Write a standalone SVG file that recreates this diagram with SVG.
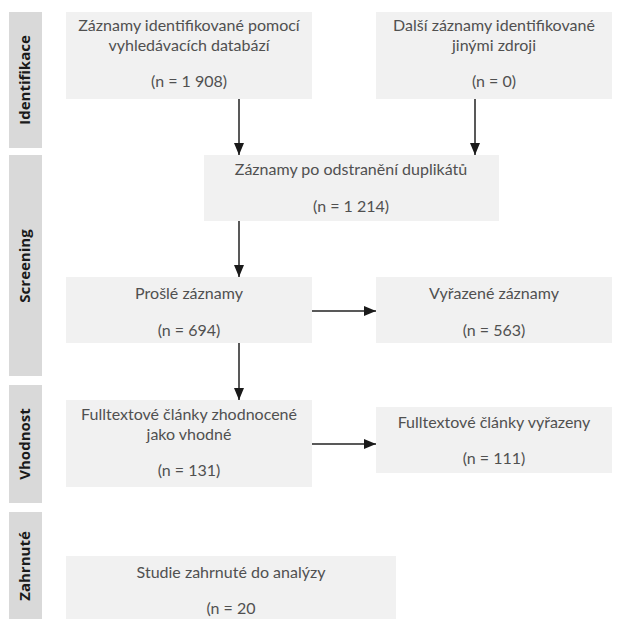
<svg xmlns="http://www.w3.org/2000/svg" width="619" height="619" viewBox="0 0 619 619">
<style>
.bar{fill:#d9d9d9}
.box{fill:#f1f1f1}
.t{font-family:Lato,"Open Sans",sans-serif;font-size:16px;fill:#505050;text-anchor:middle}
.s{font-family:"Open Sans","Noto Sans",sans-serif;font-size:15px;font-weight:bold;fill:#1a1a1a;text-anchor:middle}
.c{stroke:#222;stroke-width:1.5;fill:none}
</style>
<defs>
<marker id="ah" viewBox="0 0 12 10" refX="12" refY="5" markerWidth="12" markerHeight="10" markerUnits="userSpaceOnUse" orient="auto">
<path d="M0,0 L12,5 L0,10 z" fill="#1a1a1a"/>
</marker>
</defs>
<g id="bar-identifikace"><rect class="bar" x="9" y="12" width="33" height="136"/><text class="s" transform="translate(30,80) rotate(-90)">Identifikace</text></g>
<g id="bar-screening"><rect class="bar" x="9" y="155" width="33" height="221"/><text class="s" transform="translate(30,266) rotate(-90)">Screening</text></g>
<g id="bar-vhodnost"><rect class="bar" x="9" y="385" width="33" height="118"/><text class="s" transform="translate(30,444) rotate(-90)">Vhodnost</text></g>
<g id="bar-zahrnute"><rect class="bar" x="9" y="512" width="33" height="108"/><text class="s" transform="translate(30,566) rotate(-90)">Zahrnuté</text></g>

<g id="n1"><rect class="box" x="66" y="12" width="246" height="87"/>
<text class="t" x="189" y="31">Záznamy identifikované pomocí</text>
<text class="t" x="189" y="50.5">vyhledávacích databází</text>
<text class="t" x="189" y="87">(n = 1 908)</text></g>
<g id="n2"><rect class="box" x="376" y="12" width="236" height="87"/>
<text class="t" x="494" y="31">Další záznamy identifikované</text>
<text class="t" x="494" y="50.5">jinými zdroji</text>
<text class="t" x="494" y="87">(n = 0)</text></g>
<g id="n3"><rect class="box" x="204" y="155" width="295" height="66"/>
<text class="t" x="351" y="175">Záznamy po odstranění duplikátů</text>
<text class="t" x="351" y="212">(n = 1 214)</text></g>
<g id="n4"><rect class="box" x="66" y="277" width="246" height="66"/>
<text class="t" x="189" y="299">Prošlé záznamy</text>
<text class="t" x="189" y="336">(n = 694)</text></g>
<g id="n5"><rect class="box" x="376" y="277" width="236" height="66"/>
<text class="t" x="494" y="299">Vyřazené záznamy</text>
<text class="t" x="494" y="336">(n = 563)</text></g>
<g id="n6"><rect class="box" x="66" y="400" width="246" height="87"/>
<text class="t" x="189" y="420">Fulltextové články zhodnocené</text>
<text class="t" x="189" y="439.5">jako vhodné</text>
<text class="t" x="189" y="476">(n = 131)</text></g>
<g id="n7"><rect class="box" x="376" y="407" width="236" height="66"/>
<text class="t" x="494" y="428">Fulltextové články vyřazeny</text>
<text class="t" x="494" y="464">(n = 111)</text></g>
<g id="n8"><rect class="box" x="66" y="556" width="330" height="64"/>
<text class="t" x="231" y="578">Studie zahrnuté do analýzy</text>
<text class="t" x="231" y="614">(n = 20</text></g>

<g id="connectors">
<line class="c" x1="239" y1="99" x2="239" y2="155" marker-end="url(#ah)"/>
<line class="c" x1="475" y1="99" x2="475" y2="155" marker-end="url(#ah)"/>
<line class="c" x1="239" y1="221" x2="239" y2="277" marker-end="url(#ah)"/>
<line class="c" x1="312" y1="311" x2="376" y2="311" marker-end="url(#ah)"/>
<line class="c" x1="239" y1="343" x2="239" y2="400" marker-end="url(#ah)"/>
<line class="c" x1="312" y1="444" x2="376" y2="444" marker-end="url(#ah)"/>
</g>
</svg>
